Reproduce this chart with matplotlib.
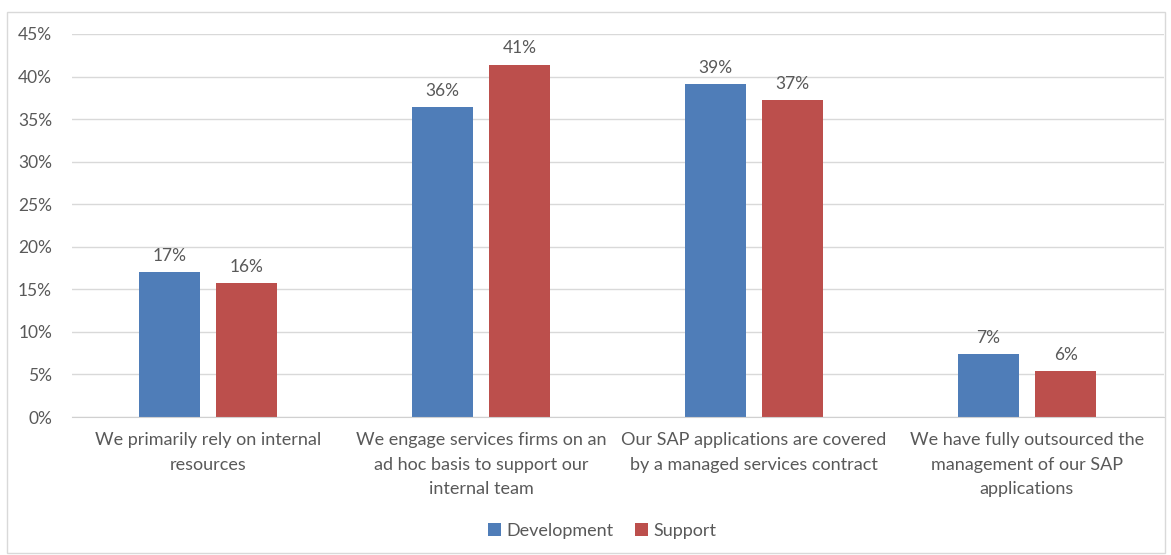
import numpy as np
import matplotlib.pyplot as plt
from matplotlib.patches import Rectangle

categories = [
    "We primarily rely on internal\nresources",
    "We engage services firms on an\nad hoc basis to support our\ninternal team",
    "Our SAP applications are covered\nby a managed services contract",
    "We have fully outsourced the\nmanagement of our SAP\napplications",
]
development = [17.0, 36.4, 39.1, 7.4]
support = [15.7, 41.4, 37.2, 5.4]
dev_labels = ["17%", "36%", "39%", "7%"]
sup_labels = ["16%", "41%", "37%", "6%"]
yticks = [0, 5, 10, 15, 20, 25, 30, 35, 40, 45]

text_color = "#595959"
dev_color = "#4f7db8"
sup_color = "#bc4f4c"

plt.rcParams["font.family"] = ["Lato", "DejaVu Sans"]

fig = plt.figure(figsize=(11.71, 5.55), dpi=100)
fig.patches.append(Rectangle((7 / 1171, 0.003), 1158 / 1171, 1 - 12 / 555 - 0.003,
                             transform=fig.transFigure, fill=False,
                             edgecolor="#d9d9d9", linewidth=1))
ax = fig.add_axes([71.5 / 1171, 1 - 417 / 555, 1092 / 1171, 383 / 555])

x = np.arange(len(categories))
width = 0.224
offset = 0.142
b1 = ax.bar(x - offset, development, width, color=dev_color, label="Development")
b2 = ax.bar(x + offset, support, width, color=sup_color, label="Support")

for bars, labels in [(b1, dev_labels), (b2, sup_labels)]:
    for bar, lab in zip(bars, labels):
        ax.annotate(lab, (bar.get_x() + bar.get_width() / 2, bar.get_height()),
                    xytext=(0, 6), textcoords="offset points",
                    ha="center", va="bottom", fontsize=12.5, color=text_color)

ax.set_xlim(-0.5, 3.5)
ax.set_ylim(0, 45)
ax.set_yticks(yticks)
ax.set_yticklabels([f"{t}%" for t in yticks])
ax.set_xticks(x)
ax.set_xticklabels(categories, fontsize=13, linespacing=1.65)
ax.tick_params(axis="both", length=0, labelcolor=text_color)
ax.tick_params(axis="y", labelsize=12.5, pad=14)
ax.tick_params(axis="x", pad=11)

ax.grid(axis="y", color="#d9d9d9", linewidth=1)
ax.set_axisbelow(True)
for side in ["top", "right", "left"]:
    ax.spines[side].set_visible(False)
ax.spines["bottom"].set_color("#d0d0d0")

leg = fig.legend(loc="center", bbox_to_anchor=(602 / 1171, 1 - 531 / 555), ncol=2,
                 frameon=False, fontsize=13, handlelength=0.7, handleheight=0.7,
                 handletextpad=0.3, columnspacing=1.2)
for t in leg.get_texts():
    t.set_color(text_color)

fig.savefig("out.png", dpi=100)
